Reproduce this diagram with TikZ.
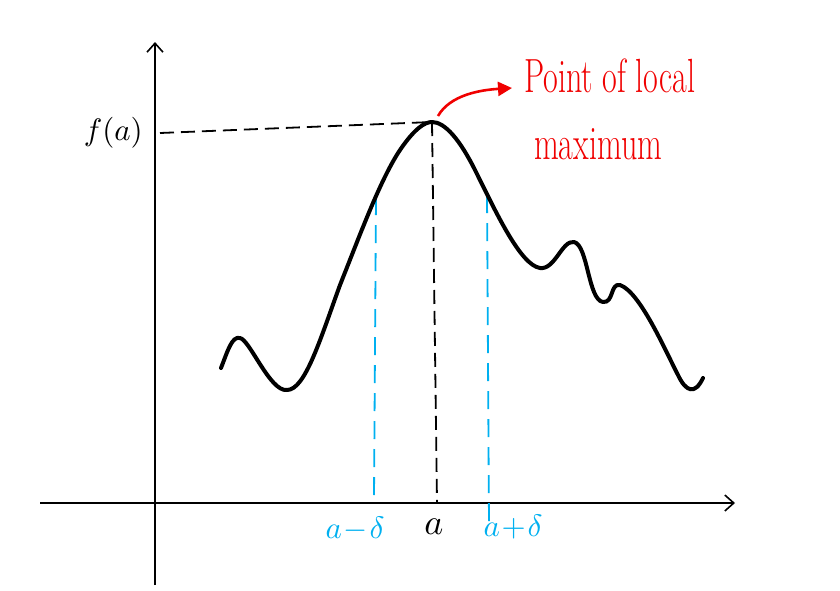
\documentclass[tikz,border=0pt]{standalone}
\usepackage{graphicx}
\usetikzlibrary{arrows.meta}
\definecolor{sky}{RGB}{0,176,240}
\definecolor{hred}{RGB}{240,0,0}
\newcommand{\bigmath}[1]{\scalebox{3.1}{$#1$}}
\newcommand{\tallred}[1]{\scalebox{1}[1.5]{#1}}
\tikzset{
  axis/.style={line width=1.6pt,-{Straight Barb[length=9pt,width=16pt,line width=1.6pt]}},
  curve/.style={line width=4pt,line cap=round,line join=round},
  blackdash/.style={line width=1.8pt,dash pattern=on 14pt off 7pt},
  bluedash/.style={sky,line width=1.8pt,dash pattern=on 18pt off 10pt},
  lbl/.style={inner sep=0pt},
  redtxt/.style={hred,inner sep=0pt,font=\fontsize{32}{32}\selectfont}
}
\begin{document}
\begin{tikzpicture}[x=1pt,y=-1pt]
\useasboundingbox (0,0) rectangle (840,590);
% axes
\coordinate (ybot) at (155,585);
\coordinate (ytop) at (155,42);
\coordinate (xl) at (40,503);
\coordinate (xr) at (735,503);
\draw[axis] (ybot) -- (ytop);
\draw[axis] (xl) -- (xr);
% key points
\coordinate (peak) at (432,122);
\coordinate (fa) at (160,133);
\coordinate (abase) at (437,502);
\coordinate (lb) at (376,197);
\coordinate (lbase) at (374,498);
\coordinate (rb) at (487,195);
\coordinate (rbase) at (489,525);
% dashed guides
\draw[blackdash] (fa) -- (peak);
\draw[blackdash] (peak) -- (abase);
\draw[bluedash] (lb) -- (lbase);
\draw[bluedash] (rb) -- (rbase);
% curve
\draw[curve] (221,368) .. controls (228,350) and (232,336) .. (240,338)
  .. controls (250,340) and (270,392) .. (287,390)
  .. controls (305,390) and (320,340) .. (340,285)
  .. controls (360,235) and (380,180) .. (400,150)
  .. controls (415,128) and (425,122) .. (432,122)
  .. controls (445,122) and (460,140) .. (475,170)
  .. controls (495,210) and (520,265) .. (540,268)
  .. controls (555,270) and (562,240) .. (574,242)
  .. controls (588,245) and (588,300) .. (603,302)
  .. controls (614,303) and (610,283) .. (620,285)
  .. controls (640,292) and (665,350) .. (678,375)
  .. controls (686,392) and (695,395) .. (703,378);
% labels
\node[lbl,anchor=east] (flabel) at (143,133) {\bigmath{f(a)}};
\node[lbl,sky] (lbla) at (355,529) {\bigmath{a\!-\!\delta}};
\node[lbl] (lblb) at (434,527) {\scalebox{3.6}{$a$}};
\node[lbl,sky] (lblc) at (513,527) {\bigmath{a\!+\!\delta}};
% red annotation
\node[redtxt,anchor=west] (pt) at (524,76) {\tallred{Point of local}};
\node[redtxt,anchor=west] (mx) at (534,144) {\tallred{maximum}};
\coordinate (arrstart) at (438,116);
\coordinate (arrend) at (512,88);
\draw[hred,line width=2.6pt,-{Triangle[length=14pt,width=14pt]}] (arrstart) .. controls (450,95) and (480,90) .. (arrend);
\end{tikzpicture}
\end{document}
